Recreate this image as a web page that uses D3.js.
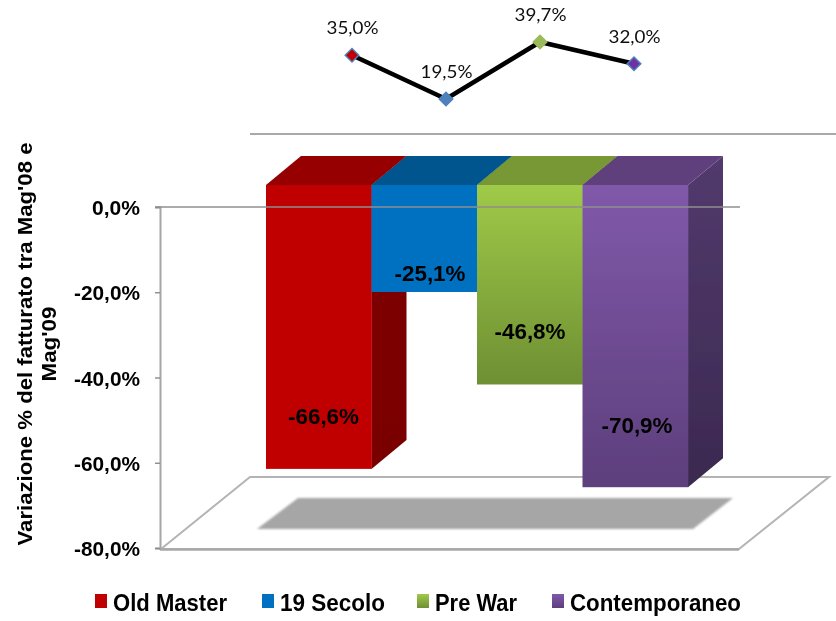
<!DOCTYPE html>
<html><head><meta charset="utf-8">
<script src="https://cdn.jsdelivr.net/npm/d3@7"></script>
<style>html,body{margin:0;padding:0;background:#fff}svg{display:block}</style>
</head><body><svg id="c" width="836" height="621"></svg>
<script>
const categories = ["Old Master", "19 Secolo", "Pre War", "Contemporaneo"];
const barValues = [-66.6, -25.1, -46.8, -70.9];
const barLabelAnchors = [-54.2, -20.6, -34.3, -56.3];
const lineValues = [35.0, 19.5, 39.7, 32.0];
const yTicks = [0, -20, -40, -60, -80];
const titleLines = ["Variazione % del fatturato tra Mag'08 e", "Mag'09"];
const frontTop = ["#c00000", "#0070c0", "#a0ca48", "#8059aa"];
const frontBottom = ["#c00000", "#0070c0", "#6e8f33", "#5d3f7c"];
const topColors = ["#960000", "#00558f", "#789734", "#5f417b"];
const sideTop = ["#7d0000", "#00477a", "#5f7a29", "#523a6d"];
const sideBottom = ["#7a0000", "#00477a", "#5f7a29", "#3b2950"];
const markerColors = ["#c00000", "#4f81bd", "#9bbb59", "#7030a0"];
const markerStrokes = ["#4f81bd", "#4f81bd", "#9bbb59", "#4f81bd"];

const svg = d3.select("#c");
const fmt = v => v.toFixed(1).replace(".", ",") + "%";
const boldFont = "'Liberation Sans', Arial, sans-serif";

const y = d3.scaleLinear().domain([0, -80]).range([207, 548]);
const x = d3.scaleBand().domain(categories).range([266, 688]).padding(0);
const lineX = d3.scalePoint().domain(categories).range([352, 634]);
const lineY = d3.scaleLinear().domain([19.5, 39.7]).range([99, 42]);
const depthX = 35, depthY = 29, barShift = 22;
const by = v => y(v) - barShift;

const defs = svg.append("defs");
const soft = defs.append("filter").attr("id", "soft").attr("x", "-5%").attr("y", "-5%").attr("width", "110%").attr("height", "110%");
soft.append("feGaussianBlur").attr("stdDeviation", 0.5);
const softer = defs.append("filter").attr("id", "softer").attr("x", "-5%").attr("y", "-20%").attr("width", "110%").attr("height", "140%");
softer.append("feGaussianBlur").attr("stdDeviation", 0.9);
function grad(id, a, b) {
  const g = defs.append("linearGradient").attr("id", id).attr("x1", 0).attr("y1", 0).attr("x2", 0).attr("y2", 1);
  g.append("stop").attr("offset", 0).attr("stop-color", a);
  g.append("stop").attr("offset", 1).attr("stop-color", b);
}
categories.forEach((c, i) => { grad("f" + i, frontTop[i], frontBottom[i]); grad("s" + i, sideTop[i], sideBottom[i]); });

const g = svg.append("g").attr("filter", "url(#soft)");

// back rule and floor
g.append("line").attr("x1", 250).attr("x2", 836).attr("y1", 134).attr("y2", 134).attr("stroke", "#8c8c8c").attr("stroke-width", 1.4);
g.append("path").attr("d", "M161,549L250,477L829,477L739,549Z").attr("fill", "#fff").attr("stroke", "#b4b4b4").attr("stroke-width", 2);
g.append("line").attr("x1", 160).attr("x2", 739).attr("y1", 549.5).attr("y2", 549.5).attr("stroke", "#a8a8a8").attr("stroke-width", 2.4);
svg.append("path").attr("d", "M298,498L733,498L693,529L257,529Z").attr("fill", "#a6a6a6").attr("filter", "url(#softer)");

// axis
const axis = d3.axisLeft(y).tickValues(yTicks).tickFormat(fmt).tickSize(5).tickPadding(8);
const ag = g.append("g").attr("transform", "translate(160,0)").call(axis);
ag.select(".domain").attr("stroke", "#a6a6a6").attr("stroke-width", 2);
ag.selectAll(".tick line").attr("stroke", "#8c8c8c").attr("stroke-width", 1.4);
ag.selectAll(".tick text").attr("font-family", boldFont).attr("font-weight", "bold").attr("font-size", 21).attr("fill", "#000").attr("x", -20).attr("dy", "0.36em")
  .attr("textLength", d => d === 0 ? 48 : 66).attr("lengthAdjust", "spacingAndGlyphs");

// bars
const bars = g.append("g");
bars.selectAll("path.side").data(categories).join("path").attr("class", "side")
  .attr("d", (c, i) => { const a = x(c) + x.bandwidth(), t = by(0), b = by(barValues[i]);
    return `M${a},${t}L${a + depthX},${t - depthY}L${a + depthX},${b - depthY}L${a},${b}Z`; })
  .attr("fill", (c, i) => `url(#s${i})`);
bars.selectAll("path.top").data(categories).join("path").attr("class", "top")
  .attr("d", c => { const a = x(c), w = x.bandwidth(), t = by(0);
    return `M${a},${t}L${a + depthX},${t - depthY}L${a + w + depthX},${t - depthY}L${a + w},${t}Z`; })
  .attr("fill", (c, i) => topColors[i]);
bars.selectAll("rect.front").data(categories).join("rect").attr("class", "front")
  .attr("x", c => x(c)).attr("width", x.bandwidth() + 0.3)
  .attr("y", by(0)).attr("height", (c, i) => by(barValues[i]) - by(0))
  .attr("fill", (c, i) => `url(#f${i})`);

// zero line on top of the bars
g.append("line").attr("x1", 155).attr("x2", 740).attr("y1", y(0)).attr("y2", y(0)).attr("stroke", "#8f8f8f").attr("stroke-width", 1.6);

// bar labels
const labelCenter = d3.scaleOrdinal().domain(categories).range([323.5, 430, 530, 637]);
g.selectAll("text.bar").data(categories).join("text").attr("class", "bar")
  .attr("x", c => labelCenter(c)).attr("y", (c, i) => by(barLabelAnchors[i]))
  .attr("text-anchor", "middle").attr("dy", "0.36em")
  .attr("font-family", boldFont).attr("font-weight", "bold").attr("font-size", 22).attr("fill", "#000")
  .attr("textLength", 71).attr("lengthAdjust", "spacingAndGlyphs")
  .text((c, i) => fmt(barValues[i]));

// title
const title = g.append("text").attr("transform", "translate(32,344) rotate(-90)").attr("text-anchor", "middle")
  .attr("font-family", boldFont).attr("font-weight", "bold").attr("font-size", 19.5).attr("fill", "#000");
title.selectAll("tspan").data(titleLines).join("tspan").attr("x", 0).attr("dy", (d, i) => i ? 24 : 0)
  .attr("textLength", (d, i) => i ? 75 : 403).attr("lengthAdjust", "spacingAndGlyphs").text(d => d);

// line
const lineGen = d3.line().x(d => lineX(d.c)).y(d => lineY(d.v));
const pts = categories.map((c, i) => ({ c, v: lineValues[i], i }));
g.append("path").attr("d", lineGen(pts)).attr("fill", "none").attr("stroke", "#000").attr("stroke-width", 4.6);
const sym = d3.symbol().type(d3.symbolSquare).size(92);
g.selectAll("path.m").data(pts).join("path").attr("class", "m").attr("d", sym)
  .attr("transform", d => `translate(${lineX(d.c)},${lineY(d.v)}) rotate(45)`)
  .attr("fill", d => markerColors[d.i]).attr("stroke", d => markerStrokes[d.i]).attr("stroke-width", 1.5);
g.selectAll("text.l").data(pts).join("text").attr("class", "l")
  .attr("x", d => lineX(d.c) + 0.5).attr("y", d => lineY(d.v) - 21)
  .attr("text-anchor", "middle").attr("font-family", "Lato, 'Open Sans', sans-serif").attr("font-size", 17.5).attr("fill", "#111")
  .attr("textLength", 52).attr("lengthAdjust", "spacingAndGlyphs").text(d => fmt(d.v));

// legend
const legendMark = d3.scaleOrdinal().domain(categories).range([95, 262, 417, 552]);
const legendWidth = d3.scaleOrdinal().domain(categories).range([114, 105, 82, 171]);
const lg = g.selectAll("g.lg").data(categories).join("g").attr("class", "lg").attr("transform", c => `translate(${legendMark(c)},0)`);
lg.append("rect").attr("x", 0).attr("y", 594).attr("width", 12).attr("height", 14).attr("fill", (c, i) => `url(#f${i})`);
lg.append("text").attr("x", 18).attr("y", 611).attr("font-family", boldFont).attr("font-weight", "bold").attr("font-size", 23).attr("fill", "#000")
  .attr("textLength", c => legendWidth(c)).attr("lengthAdjust", "spacingAndGlyphs").text(c => c);
</script></body></html>
